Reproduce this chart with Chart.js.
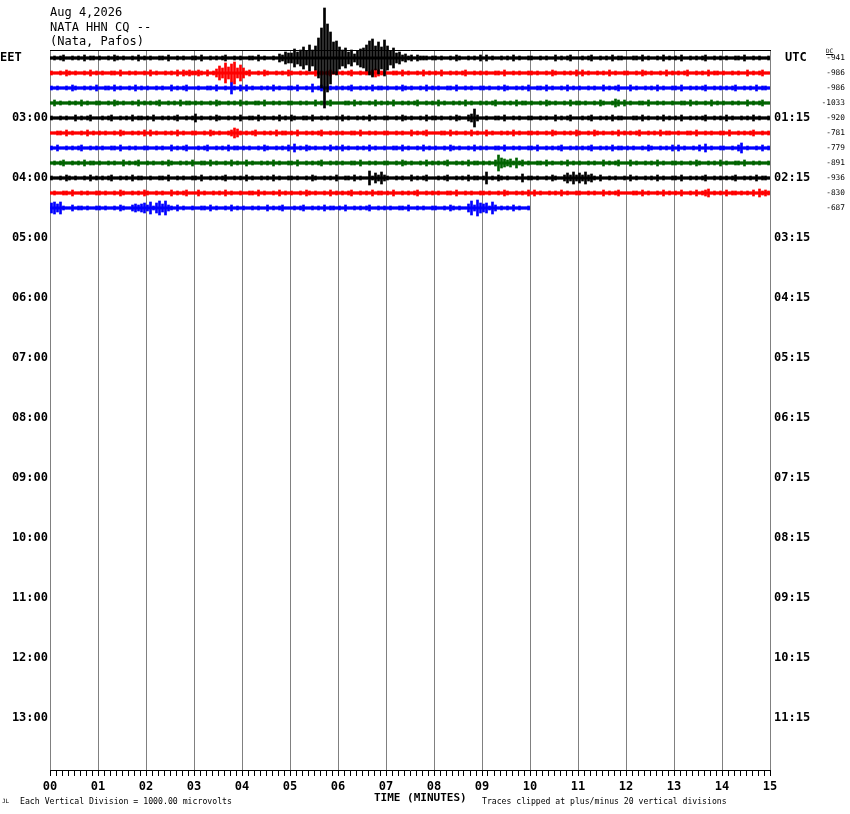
<!DOCTYPE html>
<html>
<head>
<meta charset="utf-8">
<title>NATA HHN CQ helicorder</title>
<script src="https://cdn.jsdelivr.net/npm/chart.js@4.4.1/dist/chart.umd.min.js"></script>
<style>
    body { margin: 0; background: #fff; }
    #wrap { position: relative; width: 850px; height: 814px; overflow: hidden; }
    #chart-box { position: absolute; left: 0; top: 0; width: 850px; height: 814px; }
    .t { position: absolute; font-family: "DejaVu Sans Mono", monospace; color: #000; white-space: pre; line-height: 1; }
    .b { font-weight: bold; }
</style>
</head>
<body>
<div id="wrap">
    <div id="chart-box"><canvas id="heli"></canvas></div>
    <div class="t" style="left:50px;top:6px;font-size:12px">Aug 4,2026</div>
    <div class="t" style="left:50px;top:20.5px;font-size:12px">NATA HHN CQ --</div>
    <div class="t" style="left:50px;top:35px;font-size:12px">(Nata, Pafos)</div>
    <div class="t b" style="left:0px;top:51px;font-size:12px">EET</div>
    <div class="t b" style="left:785px;top:51px;font-size:12px">UTC</div>
    <div class="t" style="left:826px;top:48px;font-size:6px;text-decoration:underline">DC</div>
    <div class="t" style="left:2px;top:798px;font-size:6px">JL</div>
    <div class="t" style="left:20px;top:796.5px;font-size:8.2px">Each Vertical Division = 1000.00 microvolts</div>
    <div class="t b" style="left:374px;top:792px;font-size:11px">TIME (MINUTES)</div>
    <div class="t" style="left:482px;top:796.5px;font-size:8.15px">Traces clipped at plus/minus 20 vertical divisions</div>
</div>
<script>
// axis labels
const eetTicks = ["03:00", "04:00", "05:00", "06:00", "07:00", "08:00", "09:00", "10:00", "11:00", "12:00", "13:00"];
const utcTicks = ["01:15", "02:15", "03:15", "04:15", "05:15", "06:15", "07:15", "08:15", "09:15", "10:15", "11:15"];
const minuteLabels = ["00", "01", "02", "03", "04", "05", "06", "07", "08", "09", "10", "11", "12", "13", "14", "15"];

// one trace per 15 minutes, start time (EET) and DC offset
const traceStart = ["02:00", "02:15", "02:30", "02:45", "03:00", "03:15", "03:30", "03:45", "04:00", "04:15", "04:30"];
const dcOffsets = [-941, -986, -986, -1033, -920, -781, -779, -891, -936, -830, -687];

// trace amplitude, one string per minute, 16 bins per minute (3.75 s each)
// 0-9 then a-z (10-35) then A-Z (36-61), unit = 1/15 of the trace spacing
const trace0 = ["1212311212131221", "2112132121121312", "1211221311212112", "2131121212311212", "1122131211214365",
    "5968b7d8ckuOyqgh", "b8a68479adhjcgbi", "c7a5634231322212", "2121121321121213", "1312112121312112",
    "2112121131212311", "1212311212131221", "1122131211213121", "2131121212311212", "1211221311212112"];
const trace1 = ["2112132121121312", "1211221311212112", "1312112121313232", "2321312475a69b58", "5231121321121213",
    "2112121131212311", "1212311212134321", "1122131211213121", "2131121212311212", "1211221311212112",
    "2121121321121213", "1312112121312112", "2112132121121312", "1212311212131221", "2112121131212311"];
const trace2 = ["2121121321121213", "1122131211213121", "2112121131212311", "1211221311216213", "1312112121312112",
    "2131121412311212", "1212311212131221", "2112132121121312", "1211221311212112", "2121121321121213",
    "1122131211213121", "2112121131212311", "1312112121312112", "2131121212311212", "1212311212131221"];
const trace3 = ["1312112121312112", "2112132121121312", "1212311212131221", "2121121321121213", "1211221311212112",
    "2112121131212311", "1122131211213121", "2131121212311212", "1312112121312112", "1212311212131221",
    "2112132121121312", "2121121321124313", "1211221311212112", "1122131211213121", "2112121131212311"];
const trace4 = ["2112121131212311", "1212311212131221", "2131121212311212", "4121121321121213", "1122131211213121",
    "3211221311212112", "1312112121312112", "2112132121121312", "2121121321134931", "1211221311212112",
    "2112121131212311", "1212311212131221", "1122131211213121", "2131121212311212", "1312112121312112"];
const trace5 = ["1122131211213121", "2121121321121213", "1312112121312112", "2112132121123542", "1212311212131221",
    "2131121212311212", "1211221311212112", "2112121131212311", "1122131211213121", "1312112121312112",
    "2121121321121213", "2112132121121312", "1212311212131221", "1211221311212112", "2131121212311212"];
const trace6 = ["2131121212311212", "1211221311212112", "2112121131212311", "1212311212131221", "2121121321121213",
    "1412132121121312", "1312112121312112", "1122131211213121", "2112132121121312", "1211221311212112",
    "2131121212311212", "1212311212131221", "2121121321121213", "1312112131412112", "2112135121121312"];
const trace7 = ["1212311212131221", "2112121131212311", "2121121321121213", "1122131211213121", "1312112121312112",
    "2131121212311212", "1211221311212112", "2112132121121312", "1212311212131221", "2121385434252312",
    "1122131211213121", "2112121131212311", "1312112121312112", "2121121321121213", "1211221311212112"];
const trace8 = ["2112132121121312", "1212311212131221", "1211221311212112", "2131121212311212", "1312112121312112",
    "2121121321121213", "1122131211725363", "2112121131212311", "1212311212131221", "2612132121121412",
    "2121121321135363", "5363421311212112", "1312112121312112", "2131121212311212", "1212311212131221"];
const trace9 = ["1211221311212112", "2121121321121213", "2112121131212311", "1312112121312112", "1122131211213121",
    "2112132121121312", "1212311212131221", "2131121212311212", "1211221311212112", "2121121321121213",
    "1312112121312112", "2112121131212311", "1122131211213121", "2131121312341212", "1312212121314232"];
const trace10 = ["5646211312212112", "2121121321134345", "3625747321312112", "1122131211213121", "2112121131212311",
    "1212311212131221", "2131121212311212", "1211221311212112", "2112132121147385", "4526312121312112"];

const traces = [trace0, trace1, trace2, trace3, trace4, trace5, trace6, trace7, trace8, trace9, trace10];

const traceColours = ["#000000", "#ff0000", "#0000ff", "#006400"];
const charset = "0123456789abcdefghijklmnopqrstuvwxyzABCDEFGHIJKLMNOPQRSTUVWXYZ";
const binsPerMinute = 16;
const monoFont = "'DejaVu Sans Mono', monospace";

const minuteOfDay = (s) => {
    const parts = s.split(":").map(Number);
    return parts[0] * 60 + parts[1];
};
const hourValues = eetTicks.map(minuteOfDay);

// minute ticks every 1/8 minute, labels on whole minutes
const minorTicks = [];
for (let k = 0; k <= 15 * 8; k++) {
    minorTicks.push(k / 8);
}

// build datasets: floating bars for the wiggle, a line for the trace centre
const datasets = [];
traces.forEach((minutes, i) => {
    const centre = minuteOfDay(traceStart[i]);
    const colour = traceColours[i % traceColours.length];
    const bars = [];
    minutes.forEach((group, m) => {
        for (let k = 0; k < group.length; k++) {
            const a = charset.indexOf(group[k]);
            bars.push({ x: m + (k + 0.5) / binsPerMinute, y: [centre - a, centre + a] });
        }
    });
    datasets.push({
        type: "bar",
        data: bars,
        backgroundColor: colour,
        borderWidth: 0,
        barThickness: 2,
        grouped: false,
        clip: false
    });
    datasets.push({
        type: "line",
        data: [{ x: 0, y: centre }, { x: minutes.length, y: centre }],
        borderColor: colour,
        borderWidth: 3,
        pointRadius: 0,
        fill: false
    });
});

const yAxis = (labels, position, width, pad) => ({
    type: "linear",
    position: position,
    reverse: true,
    min: 112,
    max: 832,
    grid: { display: false, drawTicks: false },
    border: { display: false },
    afterBuildTicks: (s) => { s.ticks = hourValues.map((v) => ({ value: v })); },
    afterFit: (s) => { s.width = width; },
    ticks: {
        padding: pad,
        color: "#000",
        font: { family: monoFont, size: 12, weight: "bold" },
        callback: (v, idx) => labels[idx]
    }
});

const config = {
    type: "bar",
    data: { datasets: datasets },
    options: {
        responsive: true,
        maintainAspectRatio: false,
        animation: false,
        events: [],
        layout: { padding: { top: 50 } },
        plugins: { legend: { display: false }, tooltip: { enabled: false } },
        scales: {
            x: {
                type: "linear",
                position: "bottom",
                min: 0,
                max: 15,
                offset: false,
                afterBuildTicks: (s) => { s.ticks = minorTicks.map((v) => ({ value: v })); },
                afterFit: (s) => { s.height = 44; },
                grid: {
                    offset: false,
                    color: (c) => (c.tick && Number.isInteger(c.tick.value)) ? "#808080" : "rgba(0,0,0,0)",
                    tickColor: "#000",
                    tickLength: 6,
                    lineWidth: 1
                },
                border: { color: "#000", width: 1 },
                ticks: {
                    autoSkip: false,
                    maxRotation: 0,
                    padding: 4,
                    color: "#000",
                    font: { family: monoFont, size: 12, weight: "bold" },
                    callback: (v) => Number.isInteger(v) ? minuteLabels[v] : ""
                }
            },
            xTop: {
                type: "linear",
                position: "top",
                min: 0,
                max: 15,
                grid: { display: false },
                ticks: { display: false },
                border: { color: "#000", width: 1 },
                afterFit: (s) => { s.height = 0; }
            },
            y: yAxis(eetTicks, "left", 50, 2),
            y2: yAxis(utcTicks, "right", 80, 4)
        }
    }
};

const chart = new Chart(document.getElementById("heli").getContext("2d"), config);

// DC offset column at the right, one per trace
const wrap = document.getElementById("wrap");
dcOffsets.forEach((dc, i) => {
    const el = document.createElement("div");
    el.className = "t";
    el.style.fontSize = "7.8px";
    el.style.right = "5px";
    el.style.top = (chart.scales.y.getPixelForValue(minuteOfDay(traceStart[i])) - 3.8) + "px";
    el.textContent = String(dc);
    wrap.appendChild(el);
});
</script>
</body>
</html>
